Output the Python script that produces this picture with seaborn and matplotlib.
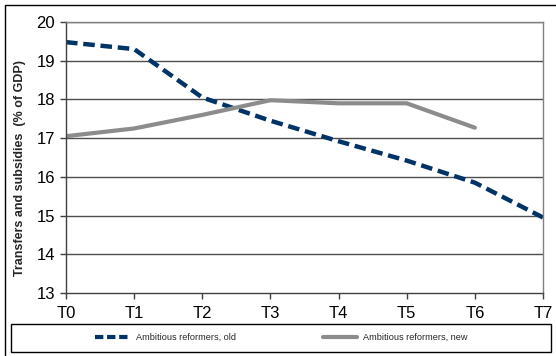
import matplotlib
matplotlib.use("Agg")
import matplotlib.pyplot as plt
import seaborn as sns
import pandas as pd
import numpy as np
from matplotlib.patches import Rectangle

periods = ["T0", "T1", "T2", "T3", "T4", "T5", "T6", "T7"]
old_vals = [19.48, 19.3, 18.05, 17.45, 16.92, 16.42, 15.85, 14.95]
new_vals = [17.05, 17.25, 17.6, 17.98, 17.9, 17.9, 17.27, np.nan]
series_names = ["Ambitious reformers, old", "Ambitious reformers, new"]
y_ticks = [13, 14, 15, 16, 17, 18, 19, 20]

sns.set_theme(style="white")
plt.rcParams["font.family"] = ["Liberation Sans", "DejaVu Sans"]

df = pd.DataFrame({
    "period": periods * 2,
    "x": list(range(len(periods))) * 2,
    "value": old_vals + new_vals,
    "series": [series_names[0]] * len(periods) + [series_names[1]] * len(periods),
})

fig = plt.figure(figsize=(5.56, 3.56), dpi=100)
ax = fig.add_axes([66/556, 1-293/356, (543-66)/556, (293-22)/356])

palette = {series_names[0]: "#003366", series_names[1]: "#8c8c8c"}
sns.lineplot(data=df, x="x", y="value", hue="series", palette=palette,
             ax=ax, legend=False, sort=False)
lines = ax.get_lines()
lines[0].set_linewidth(3.2)
lines[0].set_dashes([2.6, 1.3])
lines[0].set_dash_capstyle("butt")
lines[1].set_linewidth(3.0)
lines[1].set_solid_capstyle("round")

ax.set_xlim(0, 7)
ax.set_ylim(13, 20)
ax.set_xticks(range(len(periods)))
ax.set_xticklabels(periods)
ax.set_yticks(y_ticks)
ax.set_yticklabels([str(t) for t in y_ticks])
ax.tick_params(axis="both", labelsize=12, length=4, width=1, color="#404040",
               direction="out", bottom=True, left=True, labelcolor="black")
ax.tick_params(axis="x", pad=5)
ax.tick_params(axis="y", pad=4)
for y in y_ticks[1:]:
    ax.axhline(y, color="#4d4d4d", lw=1.0, zorder=0)
for s in ["left", "bottom"]:
    ax.spines[s].set_color("#404040")
    ax.spines[s].set_linewidth(1.0)
ax.spines["right"].set_color("#808080")
ax.spines["right"].set_linewidth(1.0)
ax.spines["top"].set_color("#808080")
ax.spines["top"].set_linewidth(1.0)
ax.set_xlabel("")
ax.set_ylabel("Transfers and subsidies  (% of GDP)", fontsize=9,
              fontweight="bold")
ax.yaxis.set_label_coords(-0.084, 0.46)

# legend
handles = [plt.Line2D([], [], color="#003366", lw=3.0, dashes=[2.0, 0.9],
                      dash_capstyle="butt"),
           plt.Line2D([], [], color="#8c8c8c", lw=3.0)]
fig.legend(handles, series_names, loc="center",
           bbox_to_anchor=(281.5/556, 1-337.5/356), ncol=2, frameon=False,
           fontsize=6.6, handlelength=3.7, handletextpad=0.7,
           columnspacing=9.5)
fig.patches.append(Rectangle((11/556, 1-352/356), 540/556, 28/356,
                             transform=fig.transFigure, fill=False,
                             edgecolor="black", lw=1.0))
# outer frame
fig.patches.append(Rectangle((5/556, -0.05), 1.1, 1-5/356+0.05,
                             transform=fig.transFigure, fill=False,
                             edgecolor="black", lw=1.0))

fig.savefig("out.png", dpi=100)
